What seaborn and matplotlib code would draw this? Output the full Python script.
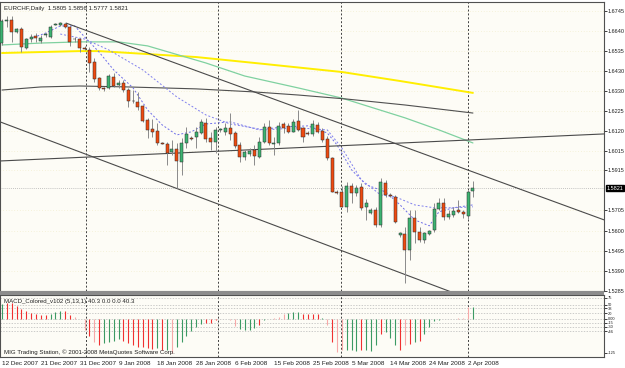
import numpy as np
import pandas as pd
import matplotlib
matplotlib.use("Agg")
import matplotlib.pyplot as plt
from matplotlib.patches import Rectangle
import seaborn as sns

# EURCHF daily bars, 12 Dec 2007 .. 3 Apr 2008 (broker with Sunday bars)
opens = [1.6578, 1.6693, 1.6698, 1.6636, 1.6651, 1.6552, 1.6599, 1.6615, 1.6589, 1.6620,
         1.6610, 1.6672, 1.6672, 1.6677, 1.6662, 1.6599, 1.6599, 1.6552, 1.6542, 1.6479,
         1.6396, 1.6341, 1.6344, 1.6401, 1.6359, 1.6370, 1.6333, 1.6278, 1.6271, 1.6250,
         1.6177, 1.6130, 1.6120, 1.6057, 1.6052, 1.6011, 1.6026, 1.5958, 1.6057, 1.6083,
         1.6089, 1.6109, 1.6162, 1.6083, 1.6063, 1.6125, 1.6115, 1.6136, 1.6109, 1.6047,
         1.5985, 1.6000, 1.6021, 1.5985, 1.6063, 1.6141, 1.6052, 1.6057, 1.6156, 1.6146,
         1.6115, 1.6172, 1.6136, 1.6109, 1.6104, 1.6151, 1.6120, 1.6078, 1.5979, 1.5802,
         1.5802, 1.5724, 1.5833, 1.5797, 1.5828, 1.5724, 1.5693, 1.5708, 1.5630, 1.5849,
         1.5786, 1.5776, 1.5578, 1.5583, 1.5500, 1.5667, 1.5593, 1.5552, 1.5583, 1.5604,
         1.5713, 1.5745, 1.5672, 1.5682, 1.5708, 1.5698, 1.5677, 1.5805]
highs = [1.6703, 1.6719, 1.6719, 1.6656, 1.6662, 1.6604, 1.6625, 1.6630, 1.6620, 1.6630,
         1.6672, 1.6682, 1.6688, 1.6682, 1.6667, 1.6610, 1.6604, 1.6560, 1.6557, 1.6500,
         1.6401, 1.6349, 1.6417, 1.6422, 1.6385, 1.6385, 1.6344, 1.6333, 1.6323, 1.6255,
         1.6188, 1.6182, 1.6162, 1.6063, 1.6063, 1.6073, 1.6057, 1.6083, 1.6141, 1.6094,
         1.6141, 1.6182, 1.6188, 1.6115, 1.6141, 1.6136, 1.6162, 1.6213, 1.6120, 1.6063,
         1.6021, 1.6031, 1.6047, 1.6089, 1.6162, 1.6177, 1.6089, 1.6167, 1.6167, 1.6162,
         1.6182, 1.6229, 1.6141, 1.6120, 1.6177, 1.6167, 1.6136, 1.6094, 1.5985, 1.5812,
         1.5833, 1.5854, 1.5849, 1.5839, 1.5849, 1.5766, 1.5719, 1.5724, 1.5875, 1.5865,
         1.5797, 1.5786, 1.5593, 1.5620, 1.5708, 1.5708, 1.5620, 1.5593, 1.5604, 1.5745,
         1.5771, 1.5771, 1.5708, 1.5724, 1.5760, 1.5708, 1.5812, 1.5856]
lows = [1.6568, 1.6662, 1.6584, 1.6630, 1.6531, 1.6547, 1.6584, 1.6584, 1.6578, 1.6610,
        1.6604, 1.6670, 1.6667, 1.6656, 1.6563, 1.6584, 1.6531, 1.6540, 1.6427, 1.6375,
        1.6333, 1.6328, 1.6339, 1.6349, 1.6344, 1.6323, 1.6245, 1.6266, 1.6229, 1.6167,
        1.6083, 1.6089, 1.6047, 1.6052, 1.5943, 1.5995, 1.5823, 1.5890, 1.6031, 1.6073,
        1.6031, 1.6104, 1.6063, 1.6021, 1.6005, 1.6115, 1.6099, 1.6073, 1.6031, 1.5958,
        1.5969, 1.5990, 1.5943, 1.5979, 1.6057, 1.6047, 1.5995, 1.6047, 1.6109, 1.6109,
        1.6115, 1.6120, 1.6063, 1.6099, 1.6094, 1.6109, 1.6063, 1.5969, 1.5802, 1.5792,
        1.5724, 1.5698, 1.5745, 1.5781, 1.5708, 1.5656, 1.5687, 1.5620, 1.5620, 1.5776,
        1.5776, 1.5640, 1.5567, 1.5328, 1.5448, 1.5536, 1.5541, 1.5536, 1.5578, 1.5593,
        1.5708, 1.5656, 1.5661, 1.5672, 1.5693, 1.5667, 1.5661, 1.5777]
closes = [1.6693, 1.6698, 1.6636, 1.6651, 1.6557, 1.6599, 1.6610, 1.6604, 1.6604, 1.6625,
          1.6662, 1.6677, 1.6682, 1.6662, 1.6584, 1.6597, 1.6552, 1.6547, 1.6474, 1.6391,
          1.6344, 1.6336, 1.6406, 1.6354, 1.6370, 1.6333, 1.6276, 1.6274, 1.6245, 1.6172,
          1.6125, 1.6115, 1.6057, 1.6052, 1.6005, 1.6026, 1.5964, 1.6057, 1.6104, 1.6078,
          1.6115, 1.6167, 1.6078, 1.6063, 1.6125, 1.6130, 1.6136, 1.6104, 1.6042, 1.5985,
          1.6011, 1.6016, 1.5990, 1.6063, 1.6141, 1.6057, 1.6055, 1.6146, 1.6136, 1.6115,
          1.6167, 1.6125, 1.6089, 1.6104, 1.6156, 1.6115, 1.6073, 1.5979, 1.5802, 1.5797,
          1.5724, 1.5833, 1.5797, 1.5823, 1.5719, 1.5745, 1.5708, 1.5630, 1.5854, 1.5786,
          1.5781, 1.5646, 1.5588, 1.5500, 1.5667, 1.5593, 1.5552, 1.5588, 1.5599, 1.5713,
          1.5745, 1.5672, 1.5687, 1.5703, 1.5698, 1.5687, 1.5802, 1.5821]

# moving averages at a few bars
ma_yellow_bar = [0, 16, 20, 40, 54, 70, 82, 97]
ma_yellow = [1.6526, 1.6536, 1.6536, 1.6505, 1.6469, 1.6427, 1.6380, 1.6318]
ma_green_bar = [0, 8, 16, 24, 30, 42, 50, 61, 70, 83, 90, 97]
ma_green = [1.6568, 1.6578, 1.6584, 1.6584, 1.6563, 1.6474, 1.6406, 1.6344, 1.6291, 1.6188, 1.6125, 1.6057]
ma_dark_bar = [0, 8, 16, 26, 40, 52, 61, 71, 83, 97]
ma_dark = [1.6333, 1.6349, 1.6354, 1.6349, 1.6339, 1.6323, 1.6307, 1.6286, 1.6255, 1.6213]
ema_fast_bar = [5, 9, 12, 15, 17, 20, 23, 27, 30, 33, 36, 39, 42, 47, 53, 58, 63, 67, 69, 72,
                75, 79, 82, 85, 88, 90, 93, 97]
ema_fast = [1.6594, 1.6630, 1.6667, 1.6667, 1.6610, 1.6531, 1.6438, 1.6344, 1.6229, 1.6151,
            1.6099, 1.6115, 1.6156, 1.6167, 1.6125, 1.6141, 1.6146, 1.6109, 1.6047, 1.5917,
            1.5839, 1.5802, 1.5734, 1.5656, 1.5625, 1.5698, 1.5719, 1.5734]
ema_slow_bar = [12, 17, 22, 29, 36, 42, 47, 54, 61, 67, 70, 74, 78, 81, 85, 89, 93, 97]
ema_slow = [1.6625, 1.6599, 1.6542, 1.6438, 1.6297, 1.6203, 1.6156, 1.6125, 1.6136, 1.6125,
            1.6031, 1.5865, 1.5786, 1.5776, 1.5734, 1.5719, 1.5719, 1.5724]

# drawn trendlines: (bar, price) end points
channel_top = ([13.2, 124.0], [1.6682, 1.5656])
channel_bottom = ([-0.4, 94.0], [1.6167, 1.5266])
flat_line = ([-0.4, 124.0], [1.5963, 1.6104])

# MACD histogram
macd = [52, 57, 55, 44, 35, 26, 21, 17, 14, 13, 17, 24, 28, 26, 12, 4, -3, -40, -65, -85,
        -97, -90, -86, -83, -76, -82, -90, -97, -103, -105, -108, -110, -109, -115, -113, -125,
        -104, -86, -62, -44, -30, -20, -18, -16, -4, -3, -2, -6, -28, -38, -42, -43, -36, -24,
        -6, -3, 2, 6, 15, 20, 22, 24, 16, 18, 17, 15, 3, -25, -85, -120, -115, -113, -115,
        -118, -115, -115, -119, -97, -57, -50, -72, -97, -115, -97, -91, -85, -80, -57, -30,
        -8, -5, -3, -2, -1, 1, 2, 42, 40.3]
macd_color = list("grrrrrrrrrgggrrppprprgggg") + list("rrrrrrrgrgpggggggrrrpppp") + \
    list("ggggrgppppgggrrrrgprppggg") + list("rgggrgggrprgrggggppppppgg")

macd_levels = [75, 50, 38, 20, 0, -15, -30, -46]
macd_ticks = [75, 50, 38, 20, 0, -15, -30, -46, -125]
macd_ticklabels = ["75", "50", "38", "20", "0.00", "-15", "-30", "-46", "-125"]

price_ticks = [1.6745, 1.6640, 1.6535, 1.6430, 1.6330, 1.6225, 1.6120, 1.6015, 1.5915,
               1.5705, 1.5600, 1.5495, 1.5390, 1.5285]
date_bars = list(range(0, 97, 8))
date_labels = ["12 Dec 2007", "21 Dec 2007", "31 Dec 2007", "9 Jan 2008", "18 Jan 2008",
               "28 Jan 2008", "6 Feb 2008", "15 Feb 2008", "25 Feb 2008", "5 Mar 2008",
               "14 Mar 2008", "24 Mar 2008", "2 Apr 2008"]
separators = [17.3, 44.5, 69.8, 96.0]

sns.set_style("white")
plt.rcParams["font.family"] = ["Liberation Sans", "DejaVu Sans"]

W, H = 625, 368
fig = plt.figure(figsize=(W / 100, H / 100), dpi=100)
fig.patch.set_facecolor("white")

ax = fig.add_axes([0, 1 - 291 / H, 604 / W, 289 / H])
ax2 = fig.add_axes([0, 1 - 357 / H, 604 / W, 62 / H], sharex=ax)
for a in (ax, ax2):
    a.set_facecolor("#fdfcf6")
    for s in a.spines.values():
        s.set_color("#505050")
        s.set_linewidth(0.8)

df = pd.DataFrame({"bar": np.arange(len(closes)), "open": opens, "high": highs,
                   "low": lows, "close": closes})
up = df["close"] >= df["open"]
body = (df["close"] - df["open"]).abs().clip(lower=0.00025)
base = df[["open", "close"]].min(axis=1)

ax.vlines(df["bar"], df["low"], df["high"], color="#8a8a8a", lw=0.7, zorder=3)
ax.bar(df["bar"][up], body[up], bottom=base[up], width=0.62, color="#3cb371",
       edgecolor="#2a2a2a", linewidth=0.35, zorder=4)
ax.bar(df["bar"][~up], body[~up], bottom=base[~up], width=0.62, color="#ee4a10",
       edgecolor="#2a2a2a", linewidth=0.35, zorder=4)

sns.lineplot(x=ma_yellow_bar, y=ma_yellow, ax=ax, color="#ffee00", lw=1.4, zorder=2)
sns.lineplot(x=ma_green_bar, y=ma_green, ax=ax, color="#7fd1a0", lw=0.9, zorder=2)
sns.lineplot(x=ma_dark_bar, y=ma_dark, ax=ax, color="#505050", lw=0.8, zorder=2)
sns.lineplot(x=ema_fast_bar, y=ema_fast, ax=ax, color="#6f6fe8", lw=0.7, zorder=2,
             linestyle=(0, (2, 2)))
sns.lineplot(x=ema_slow_bar, y=ema_slow, ax=ax, color="#8080ee", lw=0.7, zorder=2,
             linestyle=(0, (2, 2)))

for xs, ys in (channel_top, channel_bottom, flat_line):
    ax.plot(xs, ys, color="#4a4a4a", lw=0.8, zorder=2)

ax.axhline(closes[-1], color="#b0b0b0", ls=(0, (1, 1.5)), lw=0.6, zorder=1)
for a in (ax, ax2):
    for s in separators:
        a.axvline(s, color="#404040", ls=(0, (2, 2)), lw=0.7, zorder=1)

ax.set_xlim(-0.41, 124.0)
ax.set_ylim(1.5286, 1.6792)
ax.yaxis.tick_right()
ax.set_yticks(price_ticks)
ax.set_yticklabels([f"{t:.4f}" for t in price_ticks])
ax.tick_params(axis="y", direction="out", length=2, width=0.6, pad=0.8,
               labelsize=4.0, colors="#202020")
ax.tick_params(axis="x", bottom=False, labelbottom=False)
ax.grid(axis="y", color="#eee8c0", ls=(0, (1, 3)), lw=0.5)

ax.text(1.004, closes[-1], f"{closes[-1]:.4f}", transform=ax.get_yaxis_transform(),
        ha="left", va="center", fontsize=4.0, color="white", zorder=6,
        bbox=dict(boxstyle="square,pad=0.12", fc="black", ec="black"))
ax.text(0.006, 0.985, "EURCHF,Daily  1.5805 1.5856 1.5777 1.5821", transform=ax.transAxes,
        ha="left", va="top", fontsize=4.4, color="#202020")

# MACD panel
ax2.vlines(np.arange(len(macd)), 0, macd,
           colors=[{"g": "#3c9a64", "r": "#f03030", "p": "#f7a8a8"}[c] for c in macd_color],
           lw=0.8, zorder=3)
for lv in macd_levels:
    ax2.axhline(lv, color="#b8b8b8", ls=(0, (2, 2)), lw=0.5, zorder=1)
ax2.set_ylim(-140, 85.5)
ax2.yaxis.tick_right()
ax2.set_yticks(macd_ticks)
ax2.set_yticklabels(macd_ticklabels)
ax2.tick_params(axis="y", direction="out", length=2, width=0.6, pad=0.8,
                labelsize=2.9, colors="#202020")
ax2.set_xticks(date_bars)
ax2.set_xticklabels(date_labels, ha="left")
ax2.tick_params(axis="x", direction="out", length=2, width=0.6, pad=0.8,
                labelsize=4.6, colors="#202020")
ax2.text(0.006, 0.93, "MACD_Colored_v102 (5,13,1) 40.3 0.0 0.0 40.3", transform=ax2.transAxes,
         ha="left", va="top", fontsize=4.4, color="#202020")
ax2.text(0.006, 0.04, "MIG Trading Station, \u00a9 2001-2008 MetaQuotes Software Corp.",
         transform=ax2.transAxes, ha="left", va="bottom", fontsize=4.4, color="#202020")

# grey band between the two panels
fig.add_artist(Rectangle((0, 1 - 295 / H), 604 / W, 4 / H, transform=fig.transFigure,
                         fc="#8c8c8c", ec="none"))

fig.savefig("out.png", dpi=100, facecolor="white")
